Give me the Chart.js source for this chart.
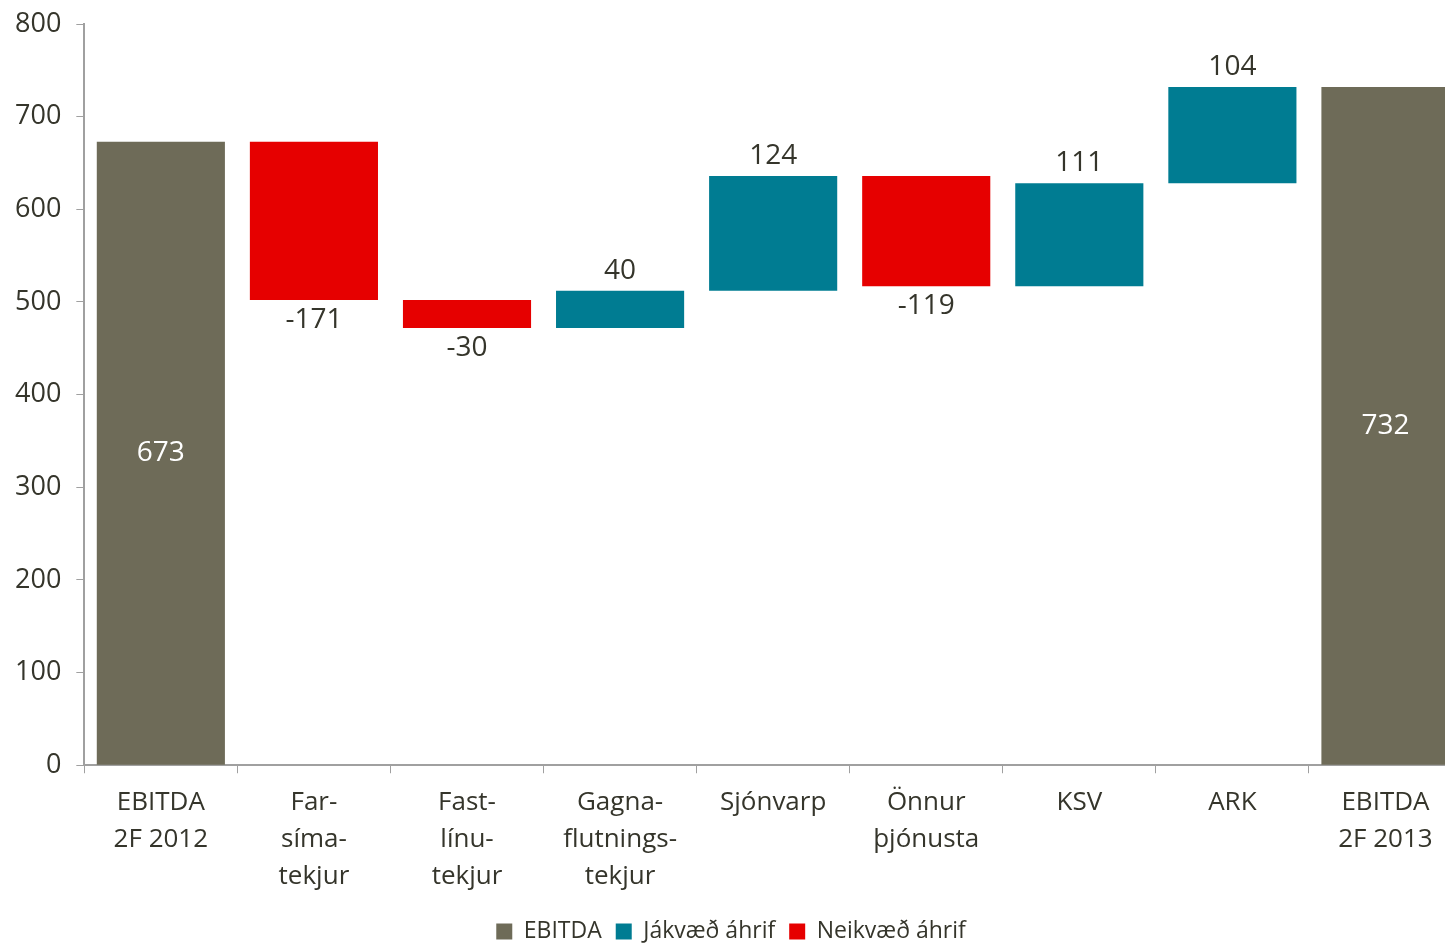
<!DOCTYPE html>
<html>
<head>
<meta charset="utf-8">
<script src="https://cdn.jsdelivr.net/npm/chart.js@4.4.1/dist/chart.umd.min.js"></script>
<style>
  html, body { margin: 0; padding: 0; background: #fff; overflow: hidden; }
  #wrap { width: 1462px; height: 944px; }
</style>
</head>
<body>
<div id="wrap"><canvas id="waterfall" width="1462" height="944"></canvas></div>
<script>
// categories (multi-line labels) and the change for each step
const categories = [
    ["EBITDA", "2F 2012"],
    ["Far-", "síma-", "tekjur"],
    ["Fast-", "línu-", "tekjur"],
    ["Gagna-", "flutnings-", "tekjur"],
    "Sjónvarp",
    ["Önnur", "þjónusta"],
    "KSV",
    "ARK",
    ["EBITDA", "2F 2013"]
];
const changes = [673, -171, -30, 40, 124, -119, 111, 104, 732];
const isTotal = [true, false, false, false, false, false, false, false, true];
const yTicks = [0, 100, 200, 300, 400, 500, 600, 700, 800];

const seriesNames = ["EBITDA", "Jákvæð áhrif", "Neikvæð áhrif"];
const colors = { total: "#6e6b58", up: "#007c92", down: "#e60000" };
const textColor = "#35352b";
const fontFamily = "'Open Sans', 'Noto Sans', sans-serif";

// build floating ranges
let totalData = [], upData = [], downData = [];
let running = 0;
changes.forEach((v, i) => {
    if (isTotal[i]) {
        totalData.push([0, v]);
        upData.push(null);
        downData.push(null);
        running = v;
    } else if (v >= 0) {
        totalData.push(null);
        upData.push([running, running + v]);
        downData.push(null);
        running += v;
    } else {
        totalData.push(null);
        upData.push(null);
        downData.push([running + v, running]);
        running += v;
    }
});

// draws the value labels on/around each bar
const valueLabels = {
    id: "valueLabels",
    afterDatasetsDraw(chart) {
        const ctx = chart.ctx;
        ctx.save();
        ctx.font = "28px " + fontFamily;
        ctx.textAlign = "center";
        chart.data.datasets.forEach((ds, di) => {
            const meta = chart.getDatasetMeta(di);
            meta.data.forEach((bar, i) => {
                if (ds.data[i] == null) return;
                const top = Math.min(bar.y, bar.base);
                const bottom = Math.max(bar.y, bar.base);
                const v = changes[i];
                if (isTotal[i]) {
                    ctx.fillStyle = "#ffffff";
                    ctx.textBaseline = "middle";
                    ctx.fillText(String(v), bar.x, (top + bottom) / 2);
                } else if (v >= 0) {
                    ctx.fillStyle = textColor;
                    ctx.textBaseline = "bottom";
                    ctx.fillText(String(v), bar.x, top - 6);
                } else {
                    ctx.fillStyle = textColor;
                    ctx.textBaseline = "top";
                    ctx.fillText(String(v), bar.x, bottom + 6);
                }
            });
        });
        ctx.restore();
    }
};

const ctx = document.getElementById("waterfall").getContext("2d");

new Chart(ctx, {
    type: "bar",
    data: {
        labels: categories,
        datasets: [
            { label: seriesNames[0], data: totalData, backgroundColor: colors.total },
            { label: seriesNames[1], data: upData, backgroundColor: colors.up },
            { label: seriesNames[2], data: downData, backgroundColor: colors.down }
        ]
    },
    options: {
        responsive: false,
        animation: false,
        barPercentage: 0.837,
        categoryPercentage: 1,
        layout: { padding: { left: 0, top: 0, right: 0, bottom: -9 } },
        plugins: {
            legend: {
                position: "bottom",
                labels: {
                    boxWidth: 16,
                    boxHeight: 16,
                    padding: 14,
                    color: textColor,
                    font: { family: fontFamily, size: 23 }
                }
            },
            tooltip: { enabled: false }
        },
        scales: {
            x: {
                stacked: true,
                grid: { drawOnChartArea: false, tickLength: 8, color: "#a0a0a0", offset: true },
                border: { color: "#a0a0a0", width: 2 },
                ticks: {
                    color: textColor,
                    maxRotation: 0,
                    autoSkip: false,
                    padding: 11,
                    font: { family: fontFamily, size: 26, lineHeight: 1.42 }
                }
            },
            y: {
                min: 0,
                max: 800,
                afterBuildTicks: axis => { axis.ticks = yTicks.map(v => ({ value: v })); },
                afterFit: axis => { axis.paddingTop = 24; },
                grid: { drawOnChartArea: false, tickLength: 8, color: "#a0a0a0" },
                border: { color: "#a0a0a0", width: 2 },
                ticks: {
                    color: textColor,
                    padding: 15,
                    font: { family: fontFamily, size: 27 }
                }
            }
        }
    },
    plugins: [valueLabels]
});
</script>
</body>
</html>
